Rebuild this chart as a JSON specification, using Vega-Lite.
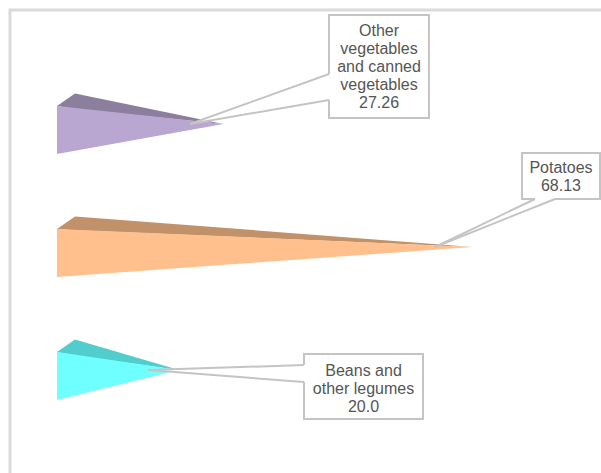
{
  "$schema": "https://vega.github.io/schema/vega-lite/v6.json",
  "width": 600,
  "height": 470,
  "autosize": "none",
  "padding": {"left": 10, "top": 10, "right": 0, "bottom": 0},
  "background": "white",
  "config": {"view": {"stroke": "#dadada", "strokeWidth": 3}},
  "datasets": {
    "pyramid": [
      {"item": "Other vegetables and canned vegetables", "part": "other-top", "face": "top", "value": 0, "y": 0.805, "y2": 0.805},
      {"item": "Other vegetables and canned vegetables", "part": "other-top", "face": "top", "value": 2.95, "y": 0.703, "y2": 0.83},
      {"item": "Other vegetables and canned vegetables", "part": "other-top", "face": "top", "value": 27.26, "y": 0.951, "y2": 0.951},
      {"item": "Other vegetables and canned vegetables", "part": "other-front", "face": "front", "value": 0, "y": 0.805, "y2": 1.195},
      {"item": "Other vegetables and canned vegetables", "part": "other-front", "face": "front", "value": 27.26, "y": 0.951, "y2": 0.951},
      {"item": "Potatoes", "part": "potatoes-top", "face": "top", "value": 0, "y": 1.805, "y2": 1.805},
      {"item": "Potatoes", "part": "potatoes-top", "face": "top", "value": 2.95, "y": 1.703, "y2": 1.815},
      {"item": "Potatoes", "part": "potatoes-top", "face": "top", "value": 68.13, "y": 1.951, "y2": 1.951},
      {"item": "Potatoes", "part": "potatoes-front", "face": "front", "value": 0, "y": 1.805, "y2": 2.195},
      {"item": "Potatoes", "part": "potatoes-front", "face": "front", "value": 68.13, "y": 1.951, "y2": 1.951},
      {"item": "Beans and other legumes", "part": "beans-top", "face": "top", "value": 0, "y": 2.805, "y2": 2.805},
      {"item": "Beans and other legumes", "part": "beans-top", "face": "top", "value": 2.95, "y": 2.703, "y2": 2.835},
      {"item": "Beans and other legumes", "part": "beans-top", "face": "top", "value": 20.0, "y": 2.951, "y2": 2.951},
      {"item": "Beans and other legumes", "part": "beans-front", "face": "front", "value": 0, "y": 2.805, "y2": 3.195},
      {"item": "Beans and other legumes", "part": "beans-front", "face": "front", "value": 20.0, "y": 2.951, "y2": 2.951}
    ],
    "callouts": [
      {"item": "Other vegetables and canned vegetables", "label": "Other\nvegetables\nand canned\nvegetables\n27.26", "bx": 44.59, "bx2": 60.98, "by": 0.065, "by2": 0.902, "tx": 52.79, "ty": 0.195},
      {"item": "Potatoes", "label": "Potatoes\n68.13", "bx": 76.23, "bx2": 89.02, "by": 1.187, "by2": 1.561, "tx": 82.62, "ty": 1.309},
      {"item": "Beans and other legumes", "label": "Beans and\nother legumes\n20.0", "bx": 40.49, "bx2": 60.0, "by": 2.821, "by2": 3.35, "tx": 50.25, "ty": 2.959}
    ],
    "wedgesLeft": [
      {"item": "Other vegetables and canned vegetables", "wx": 21.8, "wy": 0.951, "wy2": 0.951},
      {"item": "Other vegetables and canned vegetables", "wx": 44.59, "wy": 0.545, "wy2": 0.756},
      {"item": "Other vegetables and canned vegetables", "wx": 44.9, "wy": 0.545, "wy2": 0.756},
      {"item": "Beans and other legumes", "wx": 14.92, "wy": 2.951, "wy2": 2.951},
      {"item": "Beans and other legumes", "wx": 40.49, "wy": 2.911, "wy2": 3.049},
      {"item": "Beans and other legumes", "wx": 40.8, "wy": 2.911, "wy2": 3.049}
    ],
    "wedgesBottom": [
      {"item": "Potatoes", "wy": 1.951, "wx": 61.97, "wx2": 61.97},
      {"item": "Potatoes", "wy": 1.561, "wx": 78.36, "wx2": 81.64},
      {"item": "Potatoes", "wy": 1.545, "wx": 78.36, "wx2": 81.64}
    ],
    "leaders": [
      {"item": "Other vegetables and canned vegetables", "lx": 21.8, "ly": 0.951, "lx2": 44.59, "ly2": 0.545},
      {"item": "Other vegetables and canned vegetables", "lx": 21.8, "ly": 0.951, "lx2": 44.59, "ly2": 0.756},
      {"item": "Potatoes", "lx": 61.97, "ly": 1.951, "lx2": 78.36, "ly2": 1.561},
      {"item": "Potatoes", "lx": 61.97, "ly": 1.951, "lx2": 81.64, "ly2": 1.561},
      {"item": "Beans and other legumes", "lx": 14.92, "ly": 2.951, "lx2": 40.49, "ly2": 2.911},
      {"item": "Beans and other legumes", "lx": 14.92, "ly": 2.951, "lx2": 40.49, "ly2": 3.049}
    ]
  },
  "layer": [
    {
      "data": {"name": "pyramid"},
      "transform": [{"filter": "datum.face === 'top'"}],
      "mark": {"type": "area", "orient": "vertical", "opacity": 1},
      "encoding": {
        "x": {"field": "value", "type": "quantitative", "scale": {"domain": [-7.705, 90.656], "nice": false, "zero": false}, "axis": null},
        "y": {"field": "y", "type": "quantitative", "scale": {"domain": [0.02439, 3.8455], "nice": false, "zero": false, "reverse": true}, "axis": null},
        "y2": {"field": "y2"},
        "detail": {"field": "part"},
        "color": {"field": "part", "type": "nominal", "legend": null, "scale": {"domain": ["other-top", "other-front", "potatoes-top", "potatoes-front", "beans-top", "beans-front"], "range": ["#8c7e9d", "#b9a7d1", "#c1916a", "#ffc08e", "#52cdcd", "#70ffff"]}}
      }
    },
    {
      "data": {"name": "pyramid"},
      "transform": [{"filter": "datum.face === 'front'"}],
      "mark": {"type": "area", "orient": "vertical", "opacity": 1},
      "encoding": {
        "x": {"field": "value", "type": "quantitative"},
        "y": {"field": "y", "type": "quantitative"},
        "y2": {"field": "y2"},
        "detail": {"field": "part"},
        "color": {"field": "part", "type": "nominal", "legend": null}
      }
    },
    {
      "data": {"name": "callouts"},
      "mark": {"type": "rect", "fill": "white", "stroke": "#c4c4c4", "strokeWidth": 2},
      "encoding": {
        "x": {"field": "bx", "type": "quantitative"},
        "x2": {"field": "bx2"},
        "y": {"field": "by", "type": "quantitative"},
        "y2": {"field": "by2"}
      }
    },
    {
      "data": {"name": "wedgesLeft"},
      "mark": {"type": "area", "orient": "vertical", "fill": "white", "opacity": 1},
      "encoding": {
        "x": {"field": "wx", "type": "quantitative"},
        "y": {"field": "wy", "type": "quantitative"},
        "y2": {"field": "wy2"},
        "detail": {"field": "item"}
      }
    },
    {
      "data": {"name": "wedgesBottom"},
      "mark": {"type": "area", "orient": "horizontal", "fill": "white", "opacity": 1},
      "encoding": {
        "y": {"field": "wy", "type": "quantitative"},
        "x": {"field": "wx", "type": "quantitative"},
        "x2": {"field": "wx2"},
        "detail": {"field": "item"}
      }
    },
    {
      "data": {"name": "leaders"},
      "mark": {"type": "rule", "color": "#c4c4c4", "strokeWidth": 2},
      "encoding": {
        "x": {"field": "lx", "type": "quantitative"},
        "y": {"field": "ly", "type": "quantitative"},
        "x2": {"field": "lx2"},
        "y2": {"field": "ly2"}
      }
    },
    {
      "data": {"name": "callouts"},
      "mark": {"type": "text", "align": "center", "baseline": "middle", "lineBreak": "\n", "lineHeight": 18, "font": "Liberation Sans", "fontSize": 16, "color": "#555555"},
      "encoding": {
        "x": {"field": "tx", "type": "quantitative"},
        "y": {"field": "ty", "type": "quantitative"},
        "text": {"field": "label"}
      }
    }
  ]
}
